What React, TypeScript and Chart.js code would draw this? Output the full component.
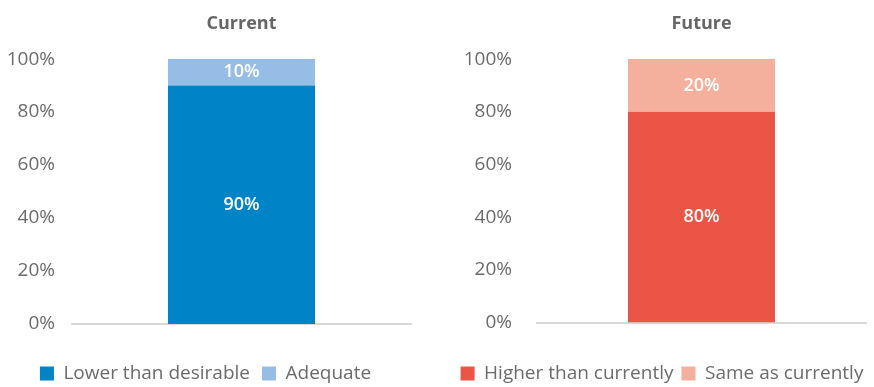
import React, { useEffect, useRef } from "react";
import { Chart, registerables } from "chart.js";

Chart.register(...registerables);

// ---- data ----
const currentCategories = ["Current"];
const currentLowerThanDesirable = [90];
const currentAdequate = [10];

const futureCategories = ["Future"];
const futureHigherThanCurrently = [80];
const futureSameAsCurrently = [20];

const yMin = 0;
const yMax = 100;
const yStep = 20;

const FONT = "'Open Sans', sans-serif";
const TEXT = "#6b6b6b";
const W = 437;
const H = 387;

const valueLabels = {
  id: "valueLabels",
  afterDatasetsDraw(chart: any) {
    const ctx = chart.ctx;
    ctx.save();
    ctx.fillStyle = "#ffffff";
    ctx.font = `600 18px ${FONT}`;
    ctx.textAlign = "center";
    ctx.textBaseline = "middle";
    chart.data.datasets.forEach((ds: any, di: number) => {
      const meta = chart.getDatasetMeta(di);
      meta.data.forEach((el: any, i: number) => {
        const p = el.getCenterPoint();
        ctx.fillText(ds.data[i] + "%", p.x, p.y);
      });
    });
    ctx.restore();
  },
};

type PanelProps = {
  title: string;
  categories: string[];
  series: { label: string; data: number[]; color: string }[];
  yAxisWidth: number;
  rightGap: number;
  tickPad: number;
  padLeft: number;
  padRight: number;
  padBottom: number;
  legendPad: number;
  xHeight: number;
  left: number;
};

function Panel(props: PanelProps) {
  const ref = useRef<HTMLCanvasElement>(null);
  useEffect(() => {
    const areaWidth = W - props.padLeft - props.padRight - props.yAxisWidth - props.rightGap;
    const chart = new Chart(ref.current as HTMLCanvasElement, {
      type: "bar",
      data: {
        labels: props.categories,
        datasets: props.series.map((s) => ({
          label: s.label,
          data: s.data,
          backgroundColor: s.color,
          borderWidth: 0,
          categoryPercentage: 1,
          barPercentage: 147 / areaWidth,
        })),
      },
      options: {
        responsive: false,
        animation: false,
        layout: {
          padding: { left: props.padLeft, right: props.padRight, top: 0, bottom: props.padBottom },
        },
        plugins: {
          tooltip: { enabled: false },
          title: {
            display: true,
            text: props.title,
            fullSize: false,
            color: "#666666",
            font: { family: FONT, size: 18, weight: "bold" },
            padding: { top: 13, bottom: 24.5 },
          },
          legend: {
            position: "bottom",
            labels: {
              boxWidth: 14,
              boxHeight: 14,
              padding: props.legendPad,
              color: TEXT,
              font: { family: FONT, size: 19 },
            },
          },
        },
        scales: {
          x: {
            stacked: true,
            grid: { display: false, drawTicks: false },
            border: { display: true, color: "#d9d9d9", width: 2 },
            ticks: { display: false },
            afterFit: (scale: any) => {
              scale.height = props.xHeight;
            },
          },
          y: {
            stacked: true,
            min: yMin,
            max: yMax,
            grid: { display: false, drawTicks: false },
            border: { display: false },
            ticks: {
              stepSize: yStep,
              padding: props.tickPad,
              color: TEXT,
              font: { family: FONT, size: 19 },
              callback: (v: any) => v + "%",
            },
            afterFit: (scale: any) => {
              scale.width = props.yAxisWidth;
            },
          },
          yRight: {
            display: props.rightGap > 0,
            position: "right",
            min: yMin,
            max: yMax,
            grid: { display: false, drawTicks: false },
            border: { display: false },
            ticks: { display: false },
            afterFit: (scale: any) => {
              scale.width = props.rightGap;
            },
          },
        },
      },
      plugins: [valueLabels],
    });
    return () => chart.destroy();
  }, []);
  return (
    <canvas
      ref={ref}
      width={W}
      height={H}
      style={{ position: "absolute", left: props.left, top: 0, display: "block" }}
    />
  );
}

export default function App() {
  return (
    <div style={{ position: "absolute", left: 0, top: 0, width: 874, height: 387, background: "#fff" }}>
      <Panel
        title="Current"
        categories={currentCategories}
        series={[
          { label: "Lower than desirable", data: currentLowerThanDesirable, color: "#0084C7" },
          { label: "Adequate", data: currentAdequate, color: "#96BDE5" },
        ]}
        yAxisWidth={72}
        rightGap={0}
        tickPad={17}
        padLeft={0}
        padRight={26}
        padBottom={-6}
        legendPad={12}
        xHeight={28}
        left={0}
      />
      <Panel
        title="Future"
        categories={futureCategories}
        series={[
          { label: "Higher than currently", data: futureHigherThanCurrently, color: "#EA5545" },
          { label: "Same as currently", data: futureSameAsCurrently, color: "#F4B09C" },
        ]}
        yAxisWidth={87}
        rightGap={8}
        tickPad={25}
        padLeft={13}
        padRight={0}
        padBottom={-6}
        legendPad={8}
        xHeight={33.5}
        left={437}
      />
    </div>
  );
}
